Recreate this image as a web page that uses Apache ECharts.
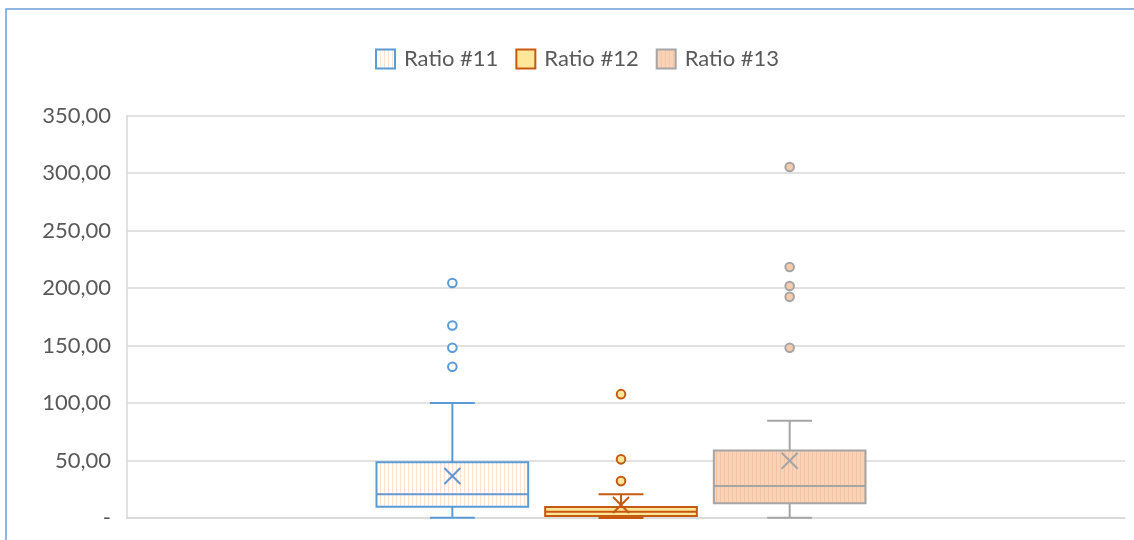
<!DOCTYPE html>
<html>
<head>
<meta charset="utf-8">
<script src="https://cdn.jsdelivr.net/npm/echarts@6/dist/echarts.min.js"></script>
<style>
  html, body { margin: 0; padding: 0; background: #ffffff; }
  #chart { width: 1134px; height: 540px; }
</style>
</head>
<body>
<div id="chart"></div>
<script>
// ---- data ----
const categories = ['Ratio'];
const seriesNames = ['Ratio #11', 'Ratio #12', 'Ratio #13'];
// five-number summaries: [lower whisker, Q1, median, Q3, upper whisker]
const ratio11Box = [0.3, 9.8, 20.6, 48.4, 100.0];
const ratio12Box = [0.0, 1.7, 5.5, 9.6, 20.6];
const ratio13Box = [0.3, 12.8, 27.8, 58.8, 84.5];
// means (drawn as an X)
const ratioMeans = [36.5, 11.3, 49.8];
// outlier points
const ratio11Outliers = [204.4, 167.4, 148.0, 131.5];
const ratio12Outliers = [107.7, 51.0, 32.1];
const ratio13Outliers = [305.2, 218.3, 201.8, 192.3, 148.0];
// value axis ticks
const yMin = 0, yMax = 350, yStep = 50;

// ---- styling ----
const FONT = 'Lato, "Open Sans", sans-serif';
const TEXT = '#595959';

function stripePattern(bg, line) {
  const c = document.createElement('canvas');
  c.width = 4; c.height = 4;
  const g = c.getContext('2d');
  g.fillStyle = bg; g.fillRect(0, 0, 4, 4);
  g.fillStyle = line; g.fillRect(0, 0, 1, 4);
  return { image: c, repeat: 'repeat' };
}

const looks = [
  { stroke: '#5b9bd5', fill: stripePattern('#ffffff', '#fbe3d4'), dot: '#ffffff' },
  { stroke: '#c55a11', fill: '#ffe699', dot: '#ffe699' },
  { stroke: '#a5a5a5', fill: stripePattern('#f9d3b9', '#f5c3a2'), dot: '#f8cbad' }
];
const boxes = [ratio11Box, ratio12Box, ratio13Box];
const outliers = [ratio11Outliers, ratio12Outliers, ratio13Outliers];

// Each box sits in its own slot inside the single category band.
const SLOT = 0.169;    // slot spacing, fraction of band
const SHIFT = -0.005;  // slight leftward shift of the whole group
const BOX_W = 0.152;   // box width, fraction of band
const CAP_W = 0.045;   // whisker cap width, fraction of band

function makeRenderer(idx) {
  const look = looks[idx];
  return function (params, api) {
    const band = api.size([1, 0])[0];
    const cx = api.coord([0, 0])[0] + ((idx - 1) * SLOT + SHIFT) * band;
    const y = v => api.coord([0, v])[1];
    const lo = api.value(1), q1 = api.value(2), med = api.value(3),
          q3 = api.value(4), hi = api.value(5), mean = api.value(6);
    const w = band * BOX_W, cap = band * CAP_W;
    const ls = { stroke: look.stroke, lineWidth: 2 };
    const line = (x1, y1, x2, y2) => ({ type: 'line', shape: { x1, y1, x2, y2 }, style: ls });
    const kids = [
      line(cx, y(q3), cx, y(hi)),
      line(cx, y(q1), cx, y(lo)),
      line(cx - cap / 2, y(hi), cx + cap / 2, y(hi)),
      line(cx - cap / 2, y(lo), cx + cap / 2, y(lo)),
      { type: 'rect', shape: { x: cx - w / 2, y: y(q3), width: w, height: y(q1) - y(q3) },
        style: { fill: look.fill, stroke: look.stroke, lineWidth: 2 } },
      line(cx - w / 2, y(med), cx + w / 2, y(med))
    ];
    const m = 8, my = y(mean);
    kids.push(line(cx - m, my - m, cx + m, my + m));
    kids.push(line(cx - m, my + m, cx + m, my - m));
    outliers[idx].forEach(v => {
      kids.push({ type: 'circle', shape: { cx, cy: y(v), r: 4.3 },
        style: { fill: look.dot, stroke: look.stroke, lineWidth: 2 } });
    });
    return { type: 'group', children: kids };
  };
}

const chart = echarts.init(document.getElementById('chart'), null, { renderer: 'canvas' });

chart.setOption({
  animation: false,
  backgroundColor: '#ffffff',
  graphic: [{
    type: 'rect', silent: true, z: 100,
    shape: { x: 6, y: 9, width: 1200, height: 600 },
    style: { fill: 'none', stroke: '#6b9fd6', lineWidth: 1.5 }
  }],
  legend: {
    top: 43,
    left: 370,
    itemWidth: 19,
    itemHeight: 19,
    itemGap: 17,
    textStyle: { fontFamily: FONT, fontSize: 22, color: TEXT, padding: [0, 0, 0, 4] },
    data: seriesNames.map((n, i) => ({
      name: n, icon: 'rect',
      itemStyle: { color: looks[i].fill, borderColor: looks[i].stroke, borderWidth: 2 }
    }))
  },
  grid: { left: 127, right: 9, top: 115.5, bottom: 22, containLabel: false },
  xAxis: {
    type: 'category',
    data: categories,
    axisLine: { show: true, lineStyle: { color: '#d9d9d9', width: 1.5 } },
    axisTick: { show: false },
    axisLabel: { show: false },
    splitLine: { show: false }
  },
  yAxis: {
    type: 'value',
    min: yMin, max: yMax, interval: yStep,
    axisLine: { show: true, lineStyle: { color: '#d9d9d9', width: 1.5 } },
    axisTick: { show: false },
    axisLabel: {
      fontFamily: FONT, fontSize: 22, color: TEXT, margin: 16,
      formatter: v => v === 0 ? '-' : v.toFixed(2).replace('.', ',')
    },
    splitLine: { lineStyle: { color: '#d9d9d9', width: 1.5 } }
  },
  series: seriesNames.map((name, i) => ({
    name,
    type: 'custom',
    renderItem: makeRenderer(i),
    itemStyle: { color: looks[i].fill, borderColor: looks[i].stroke, borderWidth: 2 },
    encode: { x: 0, y: [1, 2, 3, 4, 5, 6] },
    data: [[0, ...boxes[i], ratioMeans[i]]]
  }))
});
</script>
</body>
</html>
